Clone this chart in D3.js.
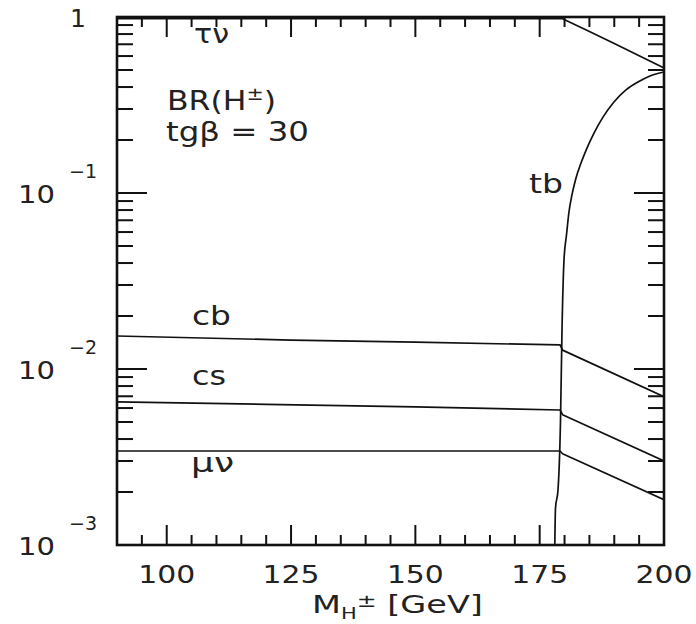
<!DOCTYPE html>
<html>
<head>
<meta charset="utf-8">
<script src="https://cdn.jsdelivr.net/npm/d3@7"></script>
<style>
  html, body { margin: 0; padding: 0; background: #fff; }
  svg { display: block; }
  text { font-family: "DejaVu Sans", sans-serif; fill: #222; }
</style>
</head>
<body>
<div id="chart"></div>
<script>
// Charged Higgs branching ratios vs mass, tan(beta) = 30
// Each series: [M_H± in GeV, BR]
const seriesTauNu = [[90, 0.98], [179.5, 0.98], [185, 0.828], [190, 0.706], [195, 0.602], [200, 0.513]];
const seriesTB = [[178.0, 0.0008], [178.18, 0.00162], [178.68, 0.00205], [179.19, 0.00513], [179.49, 0.0167],
  [179.89, 0.0416], [180.39, 0.0577], [180.89, 0.078], [181.49, 0.0975], [182.3, 0.1217], [183.31, 0.148],
  [184.51, 0.180], [185.92, 0.219], [187.73, 0.270], [189.94, 0.329], [192.36, 0.385], [194.77, 0.427],
  [197.18, 0.462], [200, 0.487]];
const seriesCB = [[90, 0.0154], [125, 0.0146], [150, 0.0142], [179.1, 0.0137], [179.6, 0.0128], [200, 0.00696]];
const seriesCS = [[90, 0.0065], [120, 0.0063], [150, 0.0061], [179.1, 0.00585], [179.6, 0.0055], [200, 0.0030]];
const seriesMuNu = [[90, 0.00342], [179.1, 0.00342], [179.6, 0.0033], [200, 0.00181]];

const xDomain = [90, 200];
const yDomain = [1e-3, 1];
const xMajorTicks = [100, 125, 150, 175, 200];
const xTickLabels = ["100", "125", "150", "175", "200"];
const yDecades = [1e-3, 1e-2, 1e-1, 1];
const yExponentLabels = ["-3", "-2", "-1"];

const W = 696, H = 624;
const plotL = 117, plotR = 664, plotT = 17, plotB = 545;

const svg = d3.select("#chart").append("svg").attr("width", W).attr("height", H);

const x = d3.scaleLinear().domain(xDomain).range([plotL, plotR]);
const y = d3.scaleLog().domain(yDomain).range([plotB, plotT]);

// clip region for the curves
svg.append("defs").append("clipPath").attr("id", "plotClip")
  .append("rect").attr("x", plotL).attr("y", plotT).attr("width", plotR - plotL).attr("height", plotB - plotT);

// ---- ticks on all four sides ----
const tickG = svg.append("g").attr("stroke", "#111").attr("stroke-width", 2);
const xMinor = d3.range(95, 200, 5).filter(v => !xMajorTicks.includes(v));
const xMajorInside = xMajorTicks.filter(v => v < 200);
function vTick(v, len, atTop) {
  const px = x(v);
  if (atTop) tickG.append("line").attr("x1", px).attr("x2", px).attr("y1", plotT).attr("y2", plotT + len);
  else tickG.append("line").attr("x1", px).attr("x2", px).attr("y1", plotB).attr("y2", plotB - len);
}
xMinor.forEach(v => { vTick(v, 10, false); vTick(v, 10, true); });
xMajorInside.forEach(v => { vTick(v, 20, false); vTick(v, 20, true); });

const yMinor = [];
yDecades.slice(0, -1).forEach(d => { for (let k = 2; k <= 9; k++) yMinor.push(d * k); });
function hTick(v, len) {
  const py = y(v);
  tickG.append("line").attr("x1", plotL).attr("x2", plotL + len).attr("y1", py).attr("y2", py);
  tickG.append("line").attr("x1", plotR).attr("x2", plotR - len).attr("y1", py).attr("y2", py);
}
yMinor.forEach(v => hTick(v, 16));
[1e-2, 1e-1].forEach(v => hTick(v, 30));

// ---- curves ----
const line = d3.line().x(d => x(d[0])).y(d => y(d[1]));
const smoothLine = d3.line().x(d => x(d[0])).y(d => y(d[1])).curve(d3.curveMonotoneX);
const curves = svg.append("g").attr("clip-path", "url(#plotClip)")
  .attr("fill", "none").attr("stroke", "#111").attr("stroke-width", 1.7).attr("stroke-linejoin", "round");
[seriesTauNu, seriesCB, seriesCS, seriesMuNu].forEach(s => {
  curves.append("path").datum(s).attr("d", line);
});
curves.append("path").datum(seriesTB).attr("d", smoothLine);

// ---- frame ----
svg.append("rect").attr("x", plotL).attr("y", plotT).attr("width", plotR - plotL).attr("height", plotB - plotT)
  .attr("fill", "none").attr("stroke", "#111").attr("stroke-width", 2.6);

// text helper: draws text then stretches it horizontally to a given width
function fitText(build, px, py, size, anchor, width) {
  const t = svg.append("text").attr("font-size", size).attr("text-anchor", anchor);
  build(t);
  const w = t.node().getBBox().width;
  const s = width ? width / w : 1;
  t.attr("transform", `translate(${px},${py}) scale(${s},1)`);
  return t;
}

// x tick labels
xMajorTicks.forEach((v, i) => {
  fitText(t => t.text(xTickLabels[i]), x(v), 583, 25, "middle", 57);
});

// y tick labels: "10" with exponent, and "1" at the top
yDecades.slice(0, -1).forEach((v, i) => {
  const py = y(v);
  fitText(t => t.text("10"), 55, py + 10, 25, "end", 37);
  fitText(t => t.text(yExponentLabels[i].replace("-", "\u2212")), 69, py - 15, 19, "start", 28);
});
fitText(t => t.text("1"), 70, y(1) + 10, 25, "start", null);

// axis title
fitText(t => {
  t.append("tspan").text("M");
  t.append("tspan").attr("font-size", 15).attr("dy", 6).text("H");
  t.append("tspan").attr("font-size", 17).attr("dy", -12).text("\u00b1");
  t.append("tspan").attr("dy", 6).text(" [GeV]");
}, 312, 613, 24, "start", 171);

// in-plot annotations
fitText(t => t.text("\u03c4\u03bd"), 194, 43, 26, "start", 35);
fitText(t => {
  t.append("tspan").text("BR(H");
  t.append("tspan").attr("font-size", 17).attr("dy", -10).text("\u00b1");
  t.append("tspan").attr("dy", 10).text(")");
}, 167, 110, 26, "start", 109);
fitText(t => t.text("tg\u03b2 = 30"), 166, 141, 26, "start", 143);
fitText(t => t.text("tb"), 529, 193, 26, "start", 34);
fitText(t => t.text("cb"), 192, 325, 26, "start", 39);
fitText(t => t.text("cs"), 192, 385, 26, "start", 34);
fitText(t => t.text("\u03bc\u03bd"), 191, 472, 26, "start", 43);
</script>
</body>
</html>
